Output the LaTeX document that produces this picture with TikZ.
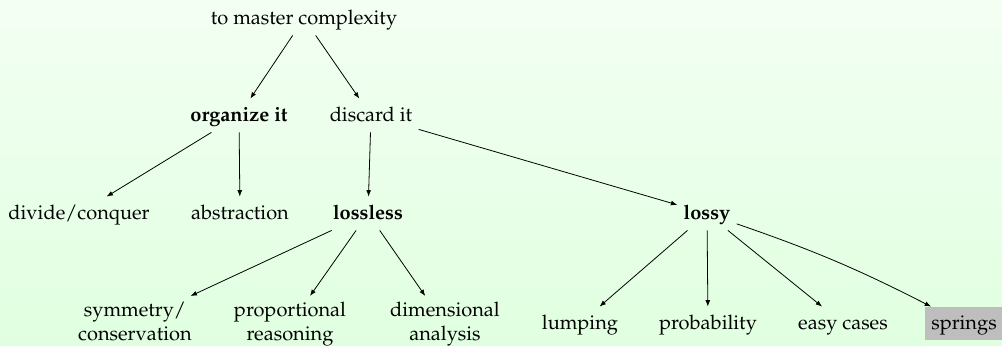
\documentclass[tikz,border=0pt]{standalone}
\usepackage[T1]{fontenc}
\usepackage{mathpazo}
\usetikzlibrary{arrows.meta}

\definecolor{fondoarriba}{RGB}{243,255,243}
\definecolor{fondoabajo}{RGB}{224,255,224}
\definecolor{gris}{RGB}{190,190,190}

\tikzset{
  idea/.style={anchor=base,text height=8pt,text depth=2.5pt,inner sep=3pt},
  doble/.style={anchor=north,align=center,inner sep=3pt},
  clave/.style={idea,font=\bfseries},
  marcada/.style={idea,fill=gris,inner xsep=3pt},
  flecha/.style={-{Latex[length=3.2pt,width=2.4pt]},line width=0.4pt},
}

\begin{document}
\begin{tikzpicture}[x=0.5pt,y=-0.5pt]
                % Fondo
                \useasboundingbox (0,0) rectangle (1002,345);
                \shade[top color=fondoarriba,bottom color=fondoabajo] (0,0) rectangle (1002,345);

                % Raiz
                \node[idea] (raiz) at (304,24) {to master complexity};

                % Nivel 1
                \node[clave] (organizar) at (239,121) {organize it};
                \node[idea] (descartar) at (371,121) {discard it};

                % Nivel 2
                \node[idea] (dividir) at (79,219) {divide/conquer};
                \node[idea] (abstraccion) at (240,219) {abstraction};
                \node[clave] (sinperdida) at (368,219) {lossless};
                \node[clave] (conperdida) at (707,219) {lossy};

                % Nivel 3
                \node[doble] (simetria) at (135,296) {symmetry/\\conservation};
                \node[doble] (proporcion) at (290,296) {proportional\\reasoning};
                \node[doble] (dimensiones) at (445,296) {dimensional\\analysis};
                \node[idea] (agrupar) at (580,329) {lumping};
                \node[idea] (probabilidad) at (708,329) {probability};
                \node[idea] (casos) at (843,329) {easy cases};
                \node[marcada] (resortes) at (964,329) {springs};

                % Flechas
                \draw[flecha] (raiz) -- (organizar);
                \draw[flecha] (raiz) -- (descartar);
                \draw[flecha] (organizar) -- (dividir);
                \draw[flecha] (organizar) -- (abstraccion);
                \draw[flecha] (descartar) -- (sinperdida);
                \draw[flecha] (descartar) -- (conperdida);
                \draw[flecha] (sinperdida) -- (simetria);
                \draw[flecha] (sinperdida) -- (proporcion);
                \draw[flecha] (sinperdida) -- (dimensiones);
                \draw[flecha] (conperdida) -- (agrupar);
                \draw[flecha] (conperdida) -- (probabilidad);
                \draw[flecha] (conperdida) -- (casos);
                \draw[flecha] (conperdida) to[bend left=4] (resortes);

\end{tikzpicture}
\end{document}
